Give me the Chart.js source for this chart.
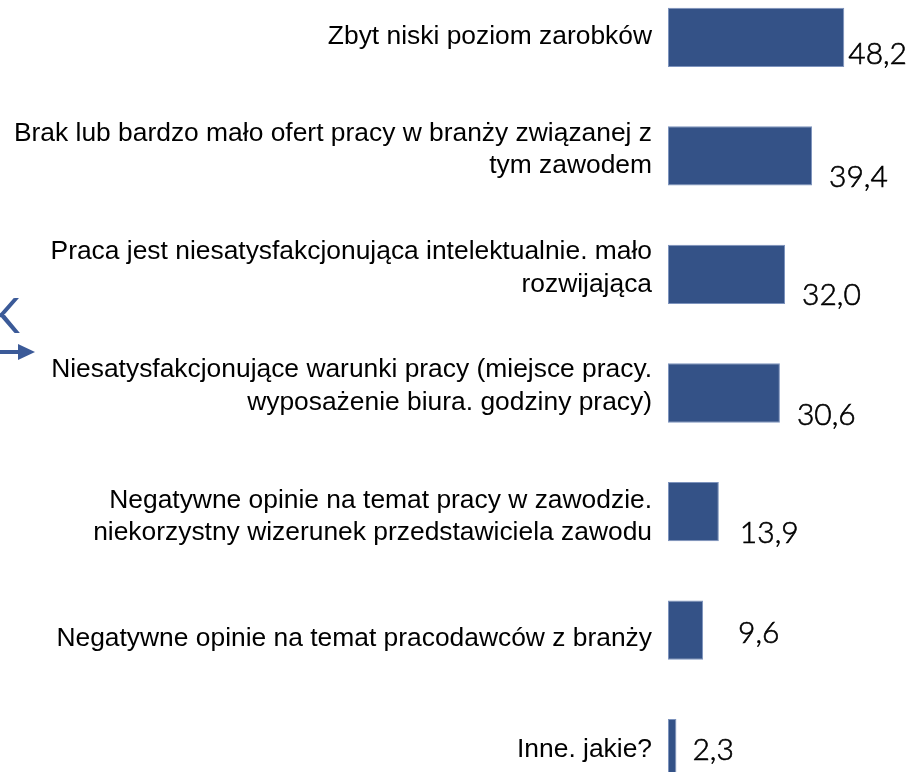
<!DOCTYPE html>
<html>
<head>
<meta charset="utf-8">
<script src="https://cdn.jsdelivr.net/npm/chart.js@4.4.1/dist/chart.umd.min.js"></script>
<style>
  html, body { margin: 0; padding: 0; background: #ffffff; overflow: hidden; width: 913px; height: 772px; }
  #wrap { position: absolute; left: 0; top: -22px; width: 913px; height: 830px; }
</style>
</head>
<body>
<div id="wrap"><canvas id="c"></canvas></div>
<script>
// ---- data ----
const categories = [
  ["Zbyt niski poziom zarobków"],
  ["Brak lub bardzo mało ofert pracy w branży związanej z", "tym zawodem"],
  ["Praca jest niesatysfakcjonująca intelektualnie. mało", "rozwijająca"],
  ["Niesatysfakcjonujące warunki pracy (miejsce pracy.", "wyposażenie biura. godziny pracy)"],
  ["Negatywne opinie na temat pracy w zawodzie.", "niekorzystny wizerunek przedstawiciela zawodu"],
  ["Negatywne opinie na temat pracodawców z branży"],
  ["Inne. jakie?"]
];
const values = [48.2, 39.4, 32.0, 30.6, 13.9, 9.6, 2.3];
const valueLabels = ["48,2", "39,4", "32,0", "30,6", "13,9", "9,6", "2,3"];

// manual label placement nudges, as in the original slide (style only)
const labelDX = [4, 17, 17, 17, 21, 35, 16];
const labelDY = [17, 21, 21, 22, 22, 3, 2];
const catShift = [-1, -6, -6, -7, 5, 9, 1];

const BLUE = '#345287';
const CAT_FONT = '26.4px "Liberation Sans", Arial, sans-serif';
const CAT_LINE = 32.5;

const categoryLabelPlugin = {
  id: 'categoryLabels',
  afterDraw(chart) {
    const ctx = chart.ctx;
    const yScale = chart.scales.y;
    const xRight = chart.chartArea.left - 16;
    ctx.save();
    ctx.fillStyle = '#000000';
    ctx.font = CAT_FONT;
    ctx.textAlign = 'right';
    ctx.textBaseline = 'middle';
    categories.forEach((lines, i) => {
      const cy = yScale.getPixelForValue(i) + catShift[i];
      const startY = cy - (lines.length - 1) * CAT_LINE / 2;
      lines.forEach((t, j) => ctx.fillText(t, xRight, startY + j * CAT_LINE));
    });
    ctx.restore();
  }
};

const valueLabelPlugin = {
  id: 'valueLabels',
  afterDatasetsDraw(chart) {
    const ctx = chart.ctx;
    const meta = chart.getDatasetMeta(0);
    ctx.save();
    ctx.fillStyle = '#000000';
    ctx.strokeStyle = '#000000';
    ctx.lineWidth = 0.6;
    ctx.font = '300 30px Lato';
    ctx.textAlign = 'left';
    ctx.textBaseline = 'middle';
    meta.data.forEach((bar, i) => {
      const x = bar.x + labelDX[i], y = bar.y + labelDY[i];
      ctx.fillText(valueLabels[i], x, y);
      ctx.strokeText(valueLabels[i], x, y);
    });
    ctx.restore();
  }
};

// fragments of neighbouring slide graphics visible at the left edge
const decoPlugin = {
  id: 'deco',
  afterDraw(chart) {
    const ctx = chart.ctx;
    ctx.save();
    ctx.fillStyle = '#3b5a98';
    ctx.font = '400 48px Lato';
    ctx.textBaseline = 'alphabetic';
    ctx.textAlign = 'left';
    ctx.fillText('K', -12, 355);
    // arrow
    ctx.fillRect(0, 372, 20, 4);
    ctx.beginPath();
    ctx.moveTo(18, 366);
    ctx.lineTo(35, 374);
    ctx.lineTo(18, 382);
    ctx.closePath();
    ctx.fill();
    ctx.restore();
  }
};

new Chart(document.getElementById('c'), {
  type: 'bar',
  data: {
    labels: categories,
    datasets: [{
      data: values,
      backgroundColor: BLUE,
      borderColor: '#7d93bd',
      borderWidth: 1,
      borderSkipped: false,
      barPercentage: 0.5,
      categoryPercentage: 1.0
    }]
  },
  options: {
    indexAxis: 'y',
    responsive: true,
    maintainAspectRatio: false,
    animation: false,
    layout: { padding: 0 },
    plugins: {
      legend: { display: false },
      tooltip: { enabled: false },
      title: { display: false }
    },
    scales: {
      x: {
        display: false,
        min: 0,
        max: 67
      },
      y: {
        grid: { display: false, drawTicks: false },
        border: { display: false },
        afterFit(scale) {
          scale.width = 668;
          scale.paddingTop = 0;
          scale.paddingBottom = 0;
        },
        ticks: { display: false, autoSkip: false }
      }
    }
  },
  plugins: [categoryLabelPlugin, valueLabelPlugin, decoPlugin]
});
</script>
</body>
</html>
